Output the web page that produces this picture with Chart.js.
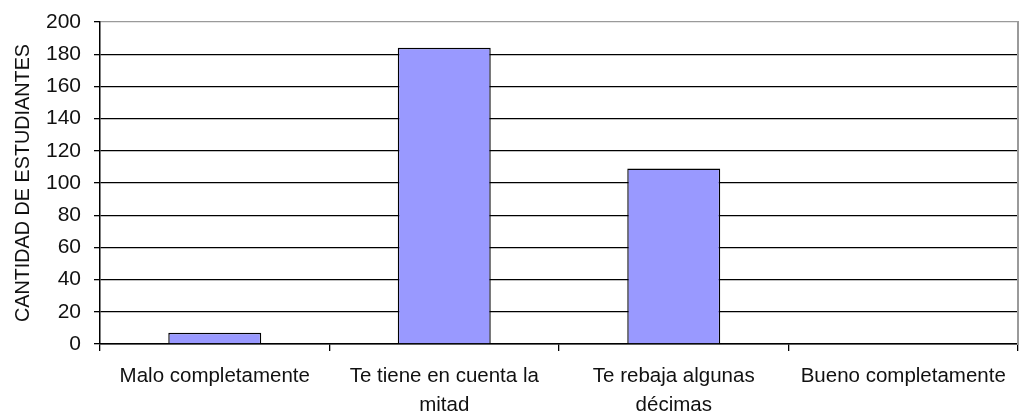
<!DOCTYPE html>
<html>
<head>
<meta charset="utf-8">
<script src="https://cdn.jsdelivr.net/npm/chart.js@4/dist/chart.umd.min.js"></script>
<style>
html,body{margin:0;padding:0;background:#fff;}
#wrap{width:1020px;height:415px;position:relative;}
</style>
</head>
<body>
<div id="wrap"><canvas id="c"></canvas></div>
<script>
const categories = [
  ["Malo completamente"],
  ["Te tiene en cuenta la", "mitad"],
  ["Te rebaja algunas", "décimas"],
  ["Bueno completamente"]
];
const values = [7, 184, 109, 0];
const yTicks = [0, 20, 40, 60, 80, 100, 120, 140, 160, 180, 200];
const yTitle = "CANTIDAD DE ESTUDIANTES";

const FONT = "'Liberation Sans', Arial, sans-serif";

new Chart(document.getElementById('c'), {
  type: 'bar',
  data: {
    labels: categories,
    datasets: [{
      data: values,
      backgroundColor: '#9999FF',
      borderColor: '#000000',
      borderWidth: 1.4,
      barPercentage: 0.405,
      categoryPercentage: 1.0
    }]
  },
  options: {
    responsive: true,
    maintainAspectRatio: false,
    animation: false,
    layout: { padding: { top: 22, right: 1, bottom: 0, left: 12 } },
    plugins: { legend: { display: false }, tooltip: { enabled: false } },
    scales: {
      x: {
        grid: { display: true, drawOnChartArea: false, drawTicks: true, tickLength: 7, color: '#000', lineWidth: 1.3, offset: true },
        border: { display: true, color: '#000', width: 1.5 },
        ticks: { color: '#111', font: { family: FONT, size: 20.5, lineHeight: 1.45 }, padding: 10, maxRotation: 0, autoSkip: false },
        afterFit: s => { s.height = 71; s.paddingLeft = 0; s.paddingRight = 0; }
      },
      y: {
        min: 0, max: 200,
        afterBuildTicks: s => { s.ticks = yTicks.map(v => ({ value: v })); },
        grid: {
          color: ctx => (ctx.tick && ctx.tick.value === 200) ? '#9a9a9a' : '#000',
          lineWidth: 1.3, drawTicks: true, tickLength: 6,
          tickColor: '#000'
        },
        border: { display: true, color: '#000', width: 1.5 },
        ticks: { color: '#111', font: { family: FONT, size: 21 }, padding: 13 },
        title: { display: true, text: yTitle, color: '#111', font: { family: FONT, size: 19.8 }, padding: 0 },
        afterFit: s => { s.width = 88; s.paddingTop = 0; s.paddingBottom = 0; }
      },
      y1: {
        position: 'right', min: 0, max: 200,
        grid: { display: false, drawTicks: false },
        ticks: { display: false },
        border: { display: true, color: '#9a9a9a', width: 2 },
        afterFit: s => { s.width = 1; s.paddingTop = 0; s.paddingBottom = 0; }
      }
    }
  }
});
</script>
</body>
</html>
